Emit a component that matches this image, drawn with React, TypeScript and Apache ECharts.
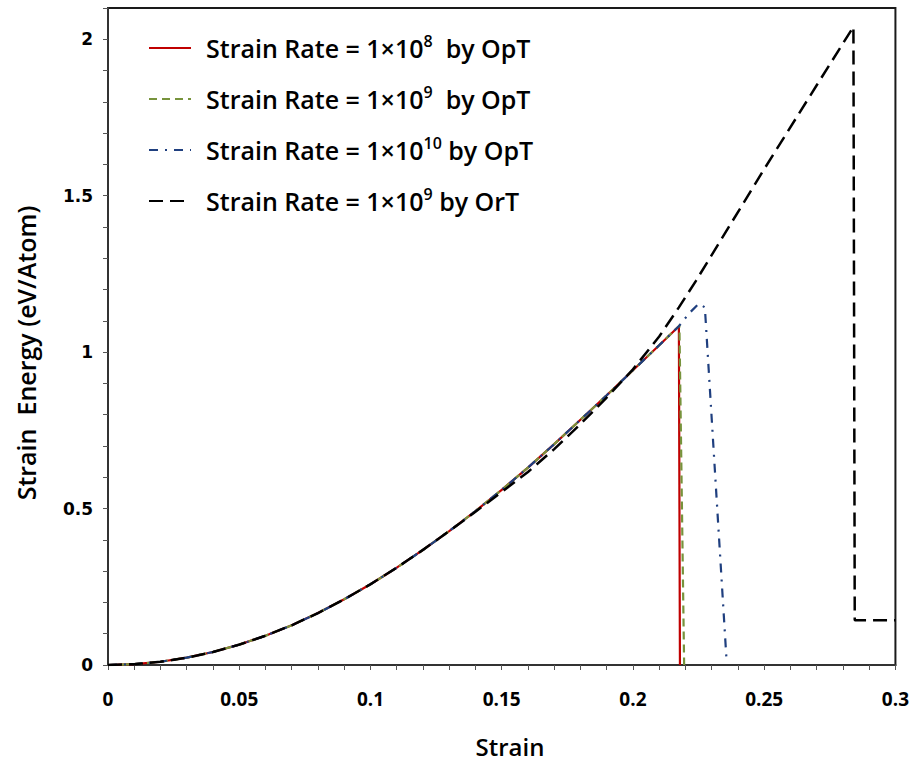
import React, { useEffect, useRef } from "react";
import * as echarts from "echarts";

// Shared loading curve (OpT), strain vs energy
const baseStrain = [0, 0.01, 0.02, 0.03, 0.04, 0.05, 0.06, 0.07, 0.08, 0.09, 0.1, 0.11, 0.12, 0.13, 0.14, 0.15, 0.16, 0.17, 0.18, 0.19, 0.2, 0.21, 0.2175];
const baseEnergy = [0, 0.0026, 0.0104, 0.0234, 0.0416, 0.065, 0.0936, 0.127, 0.166, 0.21, 0.258, 0.311, 0.368, 0.428, 0.492, 0.56, 0.631, 0.706, 0.784, 0.862, 0.942, 1.022, 1.083];

// Strain rate 1e8 by OpT
const strain1e8 = [...baseStrain, 0.2179];
const energy1e8 = [...baseEnergy, 0];

// Strain rate 1e9 by OpT
const strain1e9 = [...baseStrain, 0.2177, 0.2195];
const energy1e9 = [...baseEnergy, 1.085, 0];

// Strain rate 1e10 by OpT
const strain1e10 = [...baseStrain, 0.2215, 0.2251, 0.2274, 0.2357];
const energy1e10 = [...baseEnergy, 1.125, 1.155, 1.143, 0.01];

// Strain rate 1e9 by OrT
const strainOrT = [0, 0.01, 0.02, 0.03, 0.04, 0.05, 0.06, 0.07, 0.08, 0.09, 0.1, 0.11, 0.12, 0.13, 0.14, 0.15, 0.16, 0.17, 0.18, 0.19, 0.2, 0.21, 0.2175, 0.224, 0.25, 0.27, 0.284, 0.2845, 0.3];
const energyOrT = [0, 0.0026, 0.0104, 0.0234, 0.0416, 0.065, 0.0936, 0.127, 0.166, 0.21, 0.258, 0.311, 0.368, 0.428, 0.49, 0.553, 0.617, 0.69, 0.77, 0.855, 0.945, 1.05, 1.143, 1.228, 1.585, 1.853, 2.04, 0.143, 0.143];

const seriesNames = ["Rate 1e8 OpT", "Rate 1e9 OpT", "Rate 1e10 OpT", "Rate 1e9 OrT"];
const legendPrefix = "Strain Rate = 1×10";
const legendExp = ["8", "9", "10", "9"];
const legendSuffix = ["  by OpT", "  by OpT", " by OpT", " by OrT"];

const xTitle = "Strain";
const yTitle = "Strain  Energy (eV/Atom)";

const zip = (xs: number[], ys: number[]) => xs.map((x, i) => [x, ys[i]]);

export default function App() {
  const ref = useRef<HTMLDivElement>(null);
  useEffect(() => {
    const chart = echarts.init(ref.current!, null, { renderer: "svg" });
    const lineFont = "'Open Sans', sans-serif";
    const mk = (name: string, data: number[][], color: string, type: any, width: number) => ({
      name,
      type: "line",
      data,
      showSymbol: false,
      symbol: "none",
      color,
      lineStyle: { color, width, type },
      emphasis: { disabled: true },
    });
    chart.setOption({
      animation: false,
      backgroundColor: "#fff",
      grid: { left: 108, right: 15, top: 8, bottom: 98, show: true, borderColor: "#1a1a1a", borderWidth: 2 },
      xAxis: {
        type: "value",
        min: 0,
        max: 0.3,
        interval: 0.01,
        splitLine: { show: false },
        axisLine: { lineStyle: { color: "#333", width: 2 } },
        axisTick: { show: true, length: 5, lineStyle: { color: "#555", width: 1 } },
        axisLabel: {
          margin: 24,
          color: "#000",
          fontFamily: lineFont,
          fontWeight: "bold",
          fontSize: 19,
          formatter: (v: number) => {
            const r = Math.round(v * 20);
            return Math.abs(v * 20 - r) < 1e-6 ? String(+(r / 20).toFixed(2)) : "";
          },
        },
      },
      yAxis: {
        type: "value",
        min: 0,
        max: 2.1,
        interval: 0.1,
        splitLine: { show: false },
        axisLine: { show: true, lineStyle: { color: "#333", width: 2 } },
        axisTick: { show: true, length: 5, lineStyle: { color: "#555", width: 1 } },
        axisLabel: {
          margin: 15,
          color: "#000",
          fontFamily: "'DejaVu Sans', sans-serif",
          fontWeight: "bold",
          fontSize: 17,
          formatter: (v: number) => {
            const r = Math.round(v * 2);
            return Math.abs(v * 2 - r) < 1e-6 ? String(r / 2) : "";
          },
        },
      },
      legend: {
        orient: "vertical",
        left: 148,
        top: 33,
        padding: 0,
        itemWidth: 42,
        itemHeight: 14,
        itemGap: 23.5,
        selectedMode: false,
        data: seriesNames,
        itemStyle: { opacity: 0 },
        formatter: (name: string) => {
          const i = seriesNames.indexOf(name);
          return `{g| }{n|${legendPrefix}}{s|${legendExp[i]}}{n|${legendSuffix[i]}}`;
        },
        textStyle: {
          color: "#000",
          fontFamily: lineFont,
          fontWeight: 600,
          fontSize: 25,
          rich: {
            g: { width: 10, fontSize: 25, lineHeight: 30 },
            n: { fontFamily: lineFont, fontWeight: 600, fontSize: 25, lineHeight: 30, color: "#000" },
            s: { fontFamily: lineFont, fontWeight: 600, fontSize: 16, lineHeight: 18, verticalAlign: "top", color: "#000" },
          },
        },
      },
      graphic: [
        {
          type: "text",
          x: 510,
          y: 746,
          style: { text: xTitle, font: `600 24px ${lineFont}`, fill: "#000", align: "center", verticalAlign: "middle" },
        },
        {
          type: "text",
          x: 26,
          y: 353,
          rotation: Math.PI / 2,
          style: { text: yTitle, font: `600 25px ${lineFont}`, fill: "#000", align: "center", verticalAlign: "middle" },
        },
      ],
      series: [
        mk(seriesNames[0], zip(strain1e8, energy1e8), "#C00000", "solid", 2.2),
        mk(seriesNames[1], zip(strain1e9, energy1e9), "#77933C", [8, 5], 2.2),
        mk(seriesNames[2], zip(strain1e10, energy1e10), "#1F3F7F", [9, 7, 2, 7], 2.2),
        mk(seriesNames[3], zip(strainOrT, energyOrT), "#000000", [14, 7], 2.5),
      ],
    });
    return () => chart.dispose();
  }, []);
  return <div ref={ref} style={{ position: "fixed", left: 0, top: 0, width: 912, height: 763 }} />;
}
